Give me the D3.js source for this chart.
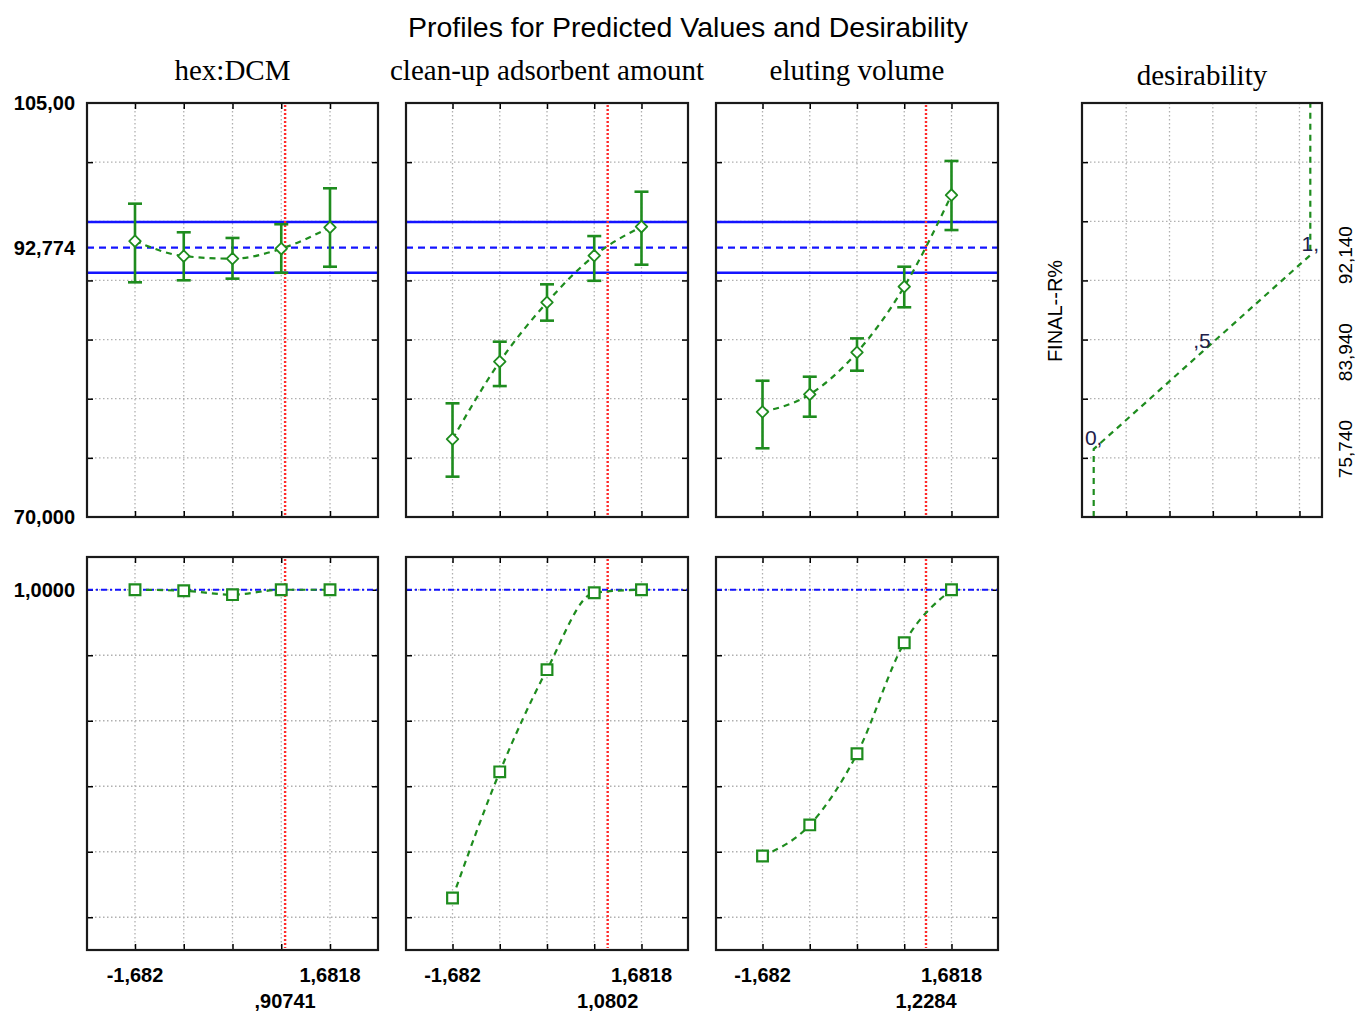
<!DOCTYPE html>
<html>
<head>
<meta charset="utf-8">
<script src="https://cdnjs.cloudflare.com/ajax/libs/d3/7.8.5/d3.min.js"></script>
<style>
body { margin: 0; background: #fff; }
text { font-family: "Liberation Sans", Arial, sans-serif; fill: #000; }
.grid line { stroke: #b0b0b0; stroke-width: 1.3; stroke-dasharray: 1.5,2.5; }
.ticks line { stroke: #000; stroke-width: 1.5; }
.ticks path { display: none; }
</style>
</head>
<body>
<script>
// Profiles for predicted values and desirability

// factor levels (coded) and current settings
var levels = [-1.682, -0.841, 0, 0.841, 1.682];
var factors = ["hex:DCM", "clean-up adsorbent amount", "eluting volume"];
var currentX = [0.90741, 1.0802, 1.2284];
var currentLabels = [",90741", "1,0802", "1,2284"];

// predicted FINAL--R% with confidence limits, per factor
var predHex = [93.33, 92.06, 91.84, 92.68, 94.49];
var upperHex = [96.49, 94.07, 93.59, 94.75, 97.79];
var lowerHex = [89.84, 90.01, 90.15, 90.65, 91.16];

var predClean = [76.59, 83.13, 88.15, 92.09, 94.54];
var upperClean = [79.61, 84.82, 89.67, 93.75, 97.50];
var lowerClean = [73.41, 81.07, 86.60, 89.97, 91.33];

var predElute = [78.88, 80.37, 83.92, 89.47, 97.22];
var upperElute = [81.52, 81.86, 85.10, 91.16, 100.1];
var lowerElute = [75.81, 78.48, 82.37, 87.73, 94.26];

// desirability at each level
var desHex = [1.0, 0.997, 0.985, 1.0, 1.0];
var desClean = [0.059, 0.444, 0.756, 0.991, 1.0];
var desElute = [0.187, 0.282, 0.499, 0.838, 1.0];

// prediction at current settings
var predCurrent = 92.774;
var ciLow = 90.65;
var ciHigh = 94.94;

// desirability function for FINAL--R%
var dLevels = [0, 0.5, 1];
var dValues = [75.74, 83.94, 92.14];
var dLabels = ["0,", ",5", "1,"];
var dValueLabels = ["75,740", "83,940", "92,140"];

// axis labels
var topTicks = [105, 92.774, 70];
var topTickLabels = ["105,00", "92,774", "70,000"];
var botTicks = [1];
var botTickLabels = ["1,0000"];
var endLabels = ["-1,682", "1,6818"];

var green = "#1e8c1e", blue = "#1414ff", red = "#ff2a2a";

var width = 1355, height = 1013;
var svg = d3.select("body").append("svg")
    .attr("width", width)
    .attr("height", height);

var topY0 = 103, topY1 = 517, botY0 = 557, botY1 = 950;
var yTop = d3.scaleLinear().domain([70, 105]).range([topY1, topY0]);
var yBot = d3.scaleLinear().domain([-0.1, 1.1]).range([botY1, botY0]);
var topGrid = [75, 80, 85, 90, 95, 100];
var botGrid = [0, 0.2, 0.4, 0.6, 0.8, 1.0];

var panels = [
    {x0: 87, x1: 378, pred: predHex, up: upperHex, lo: lowerHex, des: desHex},
    {x0: 406, x1: 688, pred: predClean, up: upperClean, lo: lowerClean, des: desClean},
    {x0: 716, x1: 998, pred: predElute, up: upperElute, lo: lowerElute, des: desElute}
];

// title
svg.append("text")
    .attr("x", 688).attr("y", 37)
    .attr("text-anchor", "middle")
    .style("font-size", "28.5px")
    .text("Profiles for Predicted Values and Desirability");

// left value labels
var leftTop = d3.axisLeft(yTop).tickValues(topTicks).tickSize(0).tickPadding(12)
    .tickFormat(function(d, i) { return topTickLabels[i]; });
var leftBot = d3.axisLeft(yBot).tickValues(botTicks).tickSize(0).tickPadding(12)
    .tickFormat(function(d, i) { return botTickLabels[i]; });
[leftTop, leftBot].forEach(function(a) {
    var g = svg.append("g").attr("transform", "translate(87,0)").call(a);
    g.select(".domain").remove();
    g.selectAll("text").style("font-size", "20px").style("font-weight", "bold")
        .style("font-family", "'Liberation Sans', Arial, sans-serif");
});

var smooth = d3.line().curve(d3.curveMonotoneX);

panels.forEach(function(p, i) {
    var x = d3.scaleLinear().domain([-2.51, 2.51]).range([p.x0, p.x1]);

    // column heading
    svg.append("text")
        .attr("x", (p.x0 + p.x1) / 2).attr("y", 80)
        .attr("text-anchor", "middle")
        .style("font-family", "'Liberation Serif', 'Times New Roman', serif")
        .style("font-size", "29px")
        .text(factors[i]);

    [["top", yTop, topY0, topY1, topGrid], ["bot", yBot, botY0, botY1, botGrid]].forEach(function(r) {
        var y = r[1], y0 = r[2], y1 = r[3];
        var g = svg.append("g").attr("class", "grid");
        g.selectAll(".v").data(levels).enter().append("line")
            .attr("x1", function(d) { return x(d); }).attr("x2", function(d) { return x(d); })
            .attr("y1", y0).attr("y2", y1);
        g.selectAll(".h").data(r[4]).enter().append("line")
            .attr("x1", p.x0).attr("x2", p.x1)
            .attr("y1", function(d) { return y(d); }).attr("y2", function(d) { return y(d); });

        // inward ticks on all four sides
        svg.append("g").attr("class", "ticks").attr("transform", "translate(0," + y1 + ")")
            .call(d3.axisBottom(x).tickValues(levels).tickSize(-6).tickFormat(""));
        svg.append("g").attr("class", "ticks").attr("transform", "translate(0," + y0 + ")")
            .call(d3.axisTop(x).tickValues(levels).tickSize(-6).tickFormat(""));
        svg.append("g").attr("class", "ticks").attr("transform", "translate(" + p.x0 + ",0)")
            .call(d3.axisLeft(y).tickValues(r[4]).tickSize(-6).tickFormat(""));
        svg.append("g").attr("class", "ticks").attr("transform", "translate(" + p.x1 + ",0)")
            .call(d3.axisRight(y).tickValues(r[4]).tickSize(-6).tickFormat(""));
    });

    // confidence band of the current prediction
    [ciHigh, ciLow].forEach(function(v) {
        svg.append("line").attr("x1", p.x0).attr("x2", p.x1)
            .attr("y1", yTop(v)).attr("y2", yTop(v))
            .attr("stroke", blue).attr("stroke-width", 2.6);
    });
    svg.append("line").attr("x1", p.x0).attr("x2", p.x1)
        .attr("y1", yTop(predCurrent)).attr("y2", yTop(predCurrent))
        .attr("stroke", blue).attr("stroke-width", 2.2).attr("stroke-dasharray", "7,5");

    // desirability 1 reference
    svg.append("line").attr("x1", p.x0).attr("x2", p.x1)
        .attr("y1", yBot(1)).attr("y2", yBot(1))
        .attr("stroke", blue).attr("stroke-width", 2).attr("stroke-dasharray", "6,3,2,3");

    // current setting
    [[topY0, topY1], [botY0, botY1]].forEach(function(r) {
        svg.append("line").attr("x1", x(currentX[i])).attr("x2", x(currentX[i]))
            .attr("y1", r[0] + 2).attr("y2", r[1] - 2)
            .attr("stroke", red).attr("stroke-width", 2.4).attr("stroke-dasharray", "2,2");
    });

    // predicted profile
    svg.append("path")
        .attr("d", smooth(levels.map(function(d, k) { return [x(d), yTop(p.pred[k])]; })))
        .attr("fill", "none").attr("stroke", green).attr("stroke-width", 2.2)
        .attr("stroke-dasharray", "6,5");

    var eb = svg.append("g").attr("stroke", green).attr("stroke-width", 2.6);
    levels.forEach(function(d, k) {
        var cx = x(d);
        eb.append("line").attr("x1", cx).attr("x2", cx)
            .attr("y1", yTop(p.up[k])).attr("y2", yTop(p.lo[k]));
        [p.up[k], p.lo[k]].forEach(function(v) {
            eb.append("line").attr("x1", cx - 7).attr("x2", cx + 7)
                .attr("y1", yTop(v)).attr("y2", yTop(v));
        });
    });

    svg.selectAll(".dia" + i).data(levels).enter().append("path")
        .attr("transform", function(d, k) { return "translate(" + x(d) + "," + yTop(p.pred[k]) + ")"; })
        .attr("d", d3.symbol().type(d3.symbolDiamond2).size(85))
        .attr("fill", "#fff").attr("stroke", green).attr("stroke-width", 1.8)
        .attr("stroke-linejoin", "round");

    // desirability profile
    svg.append("path")
        .attr("d", smooth(levels.map(function(d, k) { return [x(d), yBot(p.des[k])]; })))
        .attr("fill", "none").attr("stroke", green).attr("stroke-width", 2.2)
        .attr("stroke-dasharray", "6,5");

    svg.selectAll(".sq" + i).data(levels).enter().append("path")
        .attr("transform", function(d, k) { return "translate(" + x(d) + "," + yBot(p.des[k]) + ")"; })
        .attr("d", d3.symbol().type(d3.symbolSquare).size(115))
        .attr("fill", "#fff").attr("stroke", green).attr("stroke-width", 2.2);

    // frames
    [[topY0, topY1], [botY0, botY1]].forEach(function(r) {
        svg.append("rect").attr("x", p.x0).attr("y", r[0])
            .attr("width", p.x1 - p.x0).attr("height", r[1] - r[0])
            .attr("fill", "none").attr("stroke", "#1a1a1a").attr("stroke-width", 2.2);
    });

    // x labels
    [levels[0], levels[4]].forEach(function(d, k) {
        svg.append("text").attr("x", x(d)).attr("y", 982)
            .attr("text-anchor", "middle")
            .style("font-size", "20px").style("font-weight", "bold")
            .text(endLabels[k]);
    });
    svg.append("text").attr("x", x(currentX[i])).attr("y", 1008)
        .attr("text-anchor", "middle")
        .style("font-size", "20px").style("font-weight", "bold")
        .text(currentLabels[i]);
});

// desirability function panel
var dx0 = 1082, dx1 = 1322;
var xd = d3.scaleLinear().domain([-0.054, 1.054]).range([dx0, dx1]);
var dGrid = [0.15, 0.35, 0.55, 0.75, 0.95];

svg.append("text")
    .attr("x", (dx0 + dx1) / 2).attr("y", 85)
    .attr("text-anchor", "middle")
    .style("font-family", "'Liberation Serif', 'Times New Roman', serif")
    .style("font-size", "29px")
    .text("desirability");

var dg = svg.append("g").attr("class", "grid");
dg.selectAll(".v").data(dGrid).enter().append("line")
    .attr("x1", function(d) { return xd(d); }).attr("x2", function(d) { return xd(d); })
    .attr("y1", topY0).attr("y2", topY1);
dg.selectAll(".h").data(topGrid).enter().append("line")
    .attr("x1", dx0).attr("x2", dx1)
    .attr("y1", function(d) { return yTop(d); }).attr("y2", function(d) { return yTop(d); });

svg.append("g").attr("class", "ticks").attr("transform", "translate(0," + topY1 + ")")
    .call(d3.axisBottom(xd).tickValues(dGrid).tickSize(-6).tickFormat(""));
svg.append("g").attr("class", "ticks").attr("transform", "translate(" + dx0 + ",0)")
    .call(d3.axisLeft(yTop).tickValues(topGrid).tickSize(-6).tickFormat(""));

var dPts = [[0, 70]].concat(dLevels.map(function(d, k) { return [d, dValues[k]]; }), [[1, 105]]);
svg.append("path")
    .attr("d", d3.line()(dPts.map(function(d) { return [xd(d[0]), yTop(d[1])]; })))
    .attr("fill", "none").attr("stroke", green).attr("stroke-width", 2.2)
    .attr("stroke-dasharray", "6,5");

svg.selectAll(".dlab").data(dLevels).enter().append("text")
    .attr("x", function(d) { return xd(d); })
    .attr("y", function(d, k) { return yTop(dValues[k]) - 4; })
    .attr("text-anchor", "middle")
    .style("font-size", "21px").style("fill", "#20204a")
    .text(function(d, k) { return dLabels[k]; });

svg.append("rect").attr("x", dx0).attr("y", topY0)
    .attr("width", dx1 - dx0).attr("height", topY1 - topY0)
    .attr("fill", "none").attr("stroke", "#1a1a1a").attr("stroke-width", 2.2);

// rotated value labels on the right
svg.selectAll(".rlab").data(dValues).enter().append("text")
    .attr("transform", function(d) { return "translate(1352," + yTop(d) + ") rotate(-90)"; })
    .attr("text-anchor", "middle")
    .style("font-size", "19px")
    .text(function(d, k) { return dValueLabels[k]; });

svg.append("text")
    .attr("transform", "translate(1062,311) rotate(-90)")
    .attr("text-anchor", "middle")
    .style("font-size", "20px")
    .text("FINAL--R%");
</script>
</body>
</html>
